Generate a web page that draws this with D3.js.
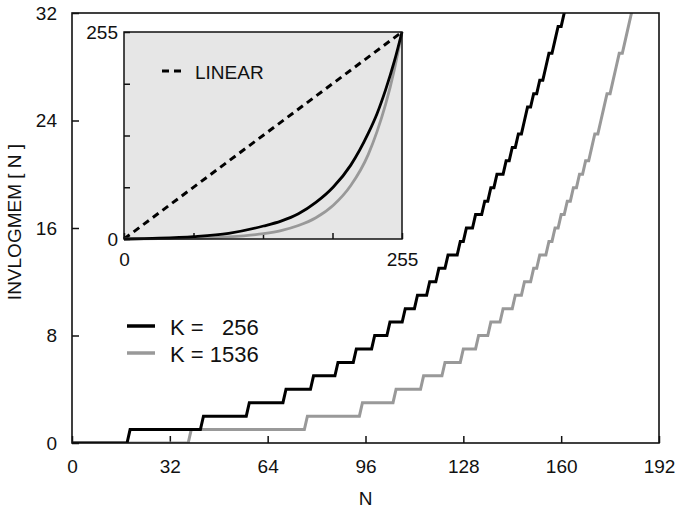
<!DOCTYPE html>
<html><head><meta charset="utf-8">
<script src="https://cdn.jsdelivr.net/npm/d3@7"></script>
<style>
body{margin:0;background:#fff}
svg text{font-family:"Liberation Sans",Arial,Helvetica,sans-serif;fill:#111}
</style></head>
<body><svg id="c" width="677" height="509"></svg>
<script>
// ---- data ----
// N at which INVLOGMEM[N] steps up by one (value v reached at steps[v-1])
const steps256  = [19,43,58,70,79,87,93,99,104,109,113,117,120,123,127,129,132,135,137,139,142,144,146,148,149,151,153,155,156,158,159,161,162];
const steps1536 = [39,77,95,106,115,122,128,133,137,141,145,148,151,153,156,158,160,162,164,166,168,170,171,173,174,175,177,178,179,181,182,183,184];
// inset: full 0..255 curves, sampled
const insetN    = [0,32,64,96,128,144,160,176,192,208,224,232,240,248,255];
const inset256  = [0,1,3,7,16,22,31,45,64,91,130,154,184,219,255];
const inset1536 = [0,0.4,1,2.6,6.6,10.4,16.6,26.2,41.6,65.9,104,132,166,209,255];
const linearN   = [0,255];
const xTicks = [0,32,64,96,128,160,192];
const yTicks = [0,8,16,24,32];
const insetTicks = [0,63.75,127.5,191.25,255];
const insetLabels = [0,255];
const legendLabels = ["K =   256","K = 1536"];
const colors = ["#000000","#999999"];

const svg = d3.select('#c');
const m = {l:72, r:659, t:13, b:443};
const x = d3.scaleLinear().domain([0,192]).range([m.l,m.r]);
const y = d3.scaleLinear().domain([0,32]).range([m.b,m.t]);

svg.append('clipPath').attr('id','clipMain').append('rect')
  .attr('x',m.l).attr('y',m.t).attr('width',m.r-m.l).attr('height',m.b-m.t);

function styleAxis(g, fs){
  g.select('.domain').remove();
  g.selectAll('.tick line').attr('stroke','#111').attr('stroke-width',1.5);
  g.selectAll('.tick text').attr('font-size',fs).attr('font-family','Liberation Sans, Arial, sans-serif').attr('fill','#111');
}

// main axes
svg.append('g').attr('transform',`translate(0,${m.b})`)
  .call(d3.axisBottom(x).tickValues(xTicks).tickSize(-7).tickPadding(17))
  .call(g=>styleAxis(g,19));
svg.append('g').attr('transform',`translate(${m.l},0)`)
  .call(d3.axisLeft(y).tickValues(yTicks).tickSize(-7).tickPadding(15))
  .call(g=>styleAxis(g,19));

// data lines
const Ns = d3.range(0,193);
function series(steps){ return Ns.map(n=>[n, steps.filter(s=>s<=n).length]); }
const line = d3.line().x(d=>x(d[0])).y(d=>y(d[1]));
const gl = svg.append('g').attr('clip-path','url(#clipMain)');
[steps1536, steps256].forEach((s,i)=>{
  gl.append('path').datum(series(s)).attr('d',line)
    .attr('fill','none').attr('stroke', i===0?colors[1]:colors[0])
    .attr('stroke-width',3).attr('stroke-linejoin','miter');
});

// frame
svg.append('rect').attr('x',m.l).attr('y',m.t).attr('width',m.r-m.l).attr('height',m.b-m.t)
  .attr('fill','none').attr('stroke','#111').attr('stroke-width',1.6);

// axis titles
svg.append('text').attr('x',(m.l+m.r)/2).attr('y',505).attr('text-anchor','middle')
  .attr('font-size',19).text('N');
svg.append('text').attr('transform','translate(21,222) rotate(-90)').attr('text-anchor','middle')
  .attr('font-size',19).text('INVLOGMEM [ N ]');

// legend
legendLabels.forEach((t,i)=>{
  const yy = 326 + i*27;
  svg.append('line').attr('x1',127).attr('x2',155).attr('y1',yy).attr('y2',yy)
    .attr('stroke',colors[i]).attr('stroke-width',3.5);
  svg.append('text').attr('x',170).attr('y',yy+9).attr('font-size',22)
    .style('white-space','pre').text(t);
});

// inset
const ix = d3.scaleLinear().domain([0,255]).range([124,402]);
const iy = d3.scaleLinear().domain([0,255]).range([239,32]);
svg.append('rect').attr('x',124).attr('y',32).attr('width',278).attr('height',207)
  .attr('fill','#e6e6e6').attr('stroke','none');
const fmt = d=> insetLabels.includes(d) ? String(d) : '';
svg.append('g').attr('transform','translate(0,239)')
  .call(d3.axisBottom(ix).tickValues(insetTicks).tickFormat(fmt).tickSize(-6).tickPadding(14))
  .call(g=>styleAxis(g,19));
svg.append('g').attr('transform','translate(124,0)')
  .call(d3.axisLeft(iy).tickValues(insetTicks).tickFormat(fmt).tickSize(-6).tickPadding(6))
  .call(g=>styleAxis(g,19));

const iline = d3.line().x(d=>ix(d[0])).y(d=>iy(d[1])).curve(d3.curveMonotoneX);
svg.append('path').datum(linearN.map(n=>[n,n])).attr('d',iline)
  .attr('fill','none').attr('stroke','#000').attr('stroke-width',3).attr('stroke-dasharray','7,5');
svg.append('path').datum(insetN.map((n,i)=>[n,inset1536[i]])).attr('d',iline)
  .attr('fill','none').attr('stroke',colors[1]).attr('stroke-width',2.8);
svg.append('path').datum(insetN.map((n,i)=>[n,inset256[i]])).attr('d',iline)
  .attr('fill','none').attr('stroke',colors[0]).attr('stroke-width',2.8);
svg.append('rect').attr('x',124).attr('y',32).attr('width',278).attr('height',207)
  .attr('fill','none').attr('stroke','#111').attr('stroke-width',1.5);

// inset legend
svg.append('line').attr('x1',162).attr('x2',181).attr('y1',71).attr('y2',71)
  .attr('stroke','#000').attr('stroke-width',3).attr('stroke-dasharray','7,5');
svg.append('text').attr('x',195).attr('y',79).attr('font-size',19).text('LINEAR');
</script></body></html>
